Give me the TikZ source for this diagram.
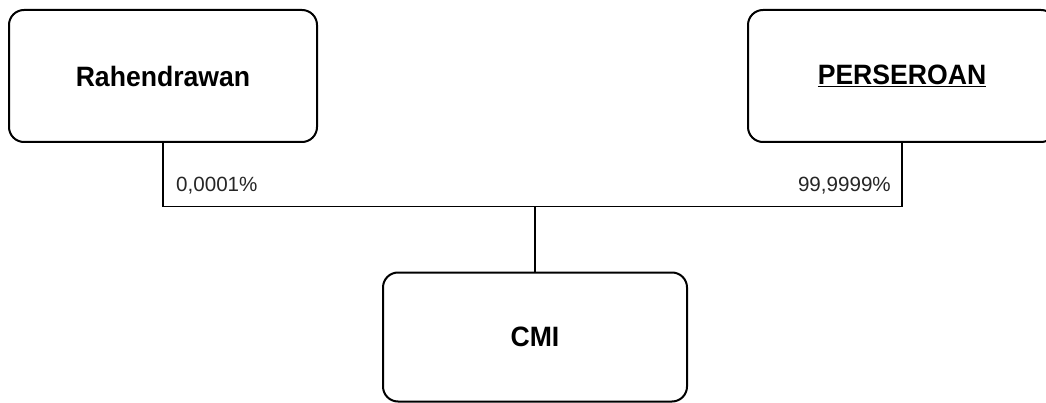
\documentclass[tikz,border=0pt]{standalone}
\usepackage{fontspec}
\setmainfont{Liberation Sans}
\newfontfamily\boxfont[FakeStretch=0.95]{Liberation Sans}
\begin{document}
\begin{tikzpicture}[x=1pt,y=-1pt,
  entity/.style={draw=black, line width=2pt, rounded corners=15pt, fill=white,
    minimum width=308pt, minimum height=132pt, inner sep=0pt,
    font=\boxfont\fontsize{28}{32}\selectfont\bfseries},
  link/.style={draw=black, line width=1.5pt},
  share/.style={font=\fontsize{20.6}{24}\selectfont, text=black!85, inner sep=0pt}]
\clip (0,0) rectangle (1046,403);
\fill[white] (0,0) rectangle (1046,403);
% owners and the held company
\node[entity] (rah) at (163,76) {Rahendrawan};
\node[entity] (per) at (902,76) {\underline{PERSEROAN}};
\node[entity, minimum width=304pt, minimum height=129pt] (cmi) at (535,337) {CMI};
% ownership lines
\coordinate (bus) at (535,206.5);
\draw[link] (rah.south) |- (bus) -| (per.south);
\draw[link] (bus) -- (cmi.north);
% share percentages
\node[share, anchor=base west] (p1) at (176,192) {0,0001\%};
\node[share, anchor=base east] (p2) at (891,192) {99,9999\%};
\end{tikzpicture}
\end{document}
